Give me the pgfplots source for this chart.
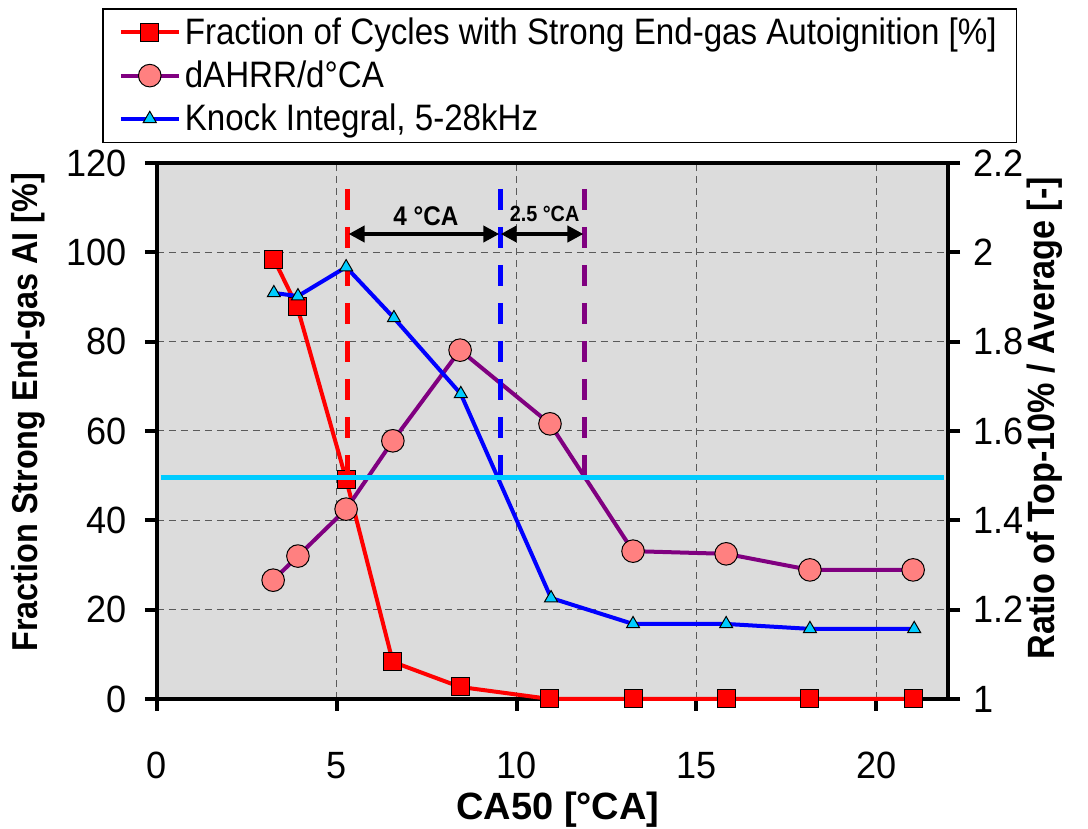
\documentclass[border=0pt]{standalone}
\usepackage{fontspec}
\setmainfont[FakeStretch=0.9]{Liberation Sans}
\newfontfamily\widefont{Liberation Sans}
\newfontfamily\tickfont[FakeStretch=0.95]{Liberation Sans}
\usepackage{pgfplots}
\pgfplotsset{compat=1.18}
\usetikzlibrary{arrows.meta}
\definecolor{bgc}{RGB}{220,220,220}
\definecolor{cpurple}{RGB}{128,0,128}
\definecolor{csalmon}{RGB}{255,128,128}
\definecolor{ccyan}{RGB}{0,204,255}
\definecolor{gridc}{RGB}{90,90,90}
\begin{document}
\begin{tikzpicture}
\useasboundingbox (-78.5pt,-65pt) rectangle (465.5pt,349.5pt);
\pgfplotsset{
  every axis/.append style={
    scale only axis, width=395.5pt, height=268pt, xmin=0, xmax=22,
    font=\fontsize{18}{21}\selectfont,
    tick label style={font=\tickfont\fontsize{19}{21}\selectfont},
    /pgf/number format/assume math mode=true,
    tick align=outside, major tick length=6pt,
    tick style={black, line width=2pt},
    axis line style={line width=2pt},
  }
}
\begin{axis}[
  ymin=0, ymax=120, ytick={0,20,40,60,80,100,120}, xtick={0,5,10,15,20},
  xtick pos=bottom, ytick pos=left,
  axis background/.style={fill=bgc},
  grid=major, grid style={gridc, line width=0.5pt, dash pattern=on 3.5pt off 2.5pt},
  clip=false,
  xticklabel style={yshift=-17pt},
  yticklabel style={xshift=-5.5pt},
  xlabel={\widefont\bfseries\fontsize{19}{20}\selectfont CA50 [°CA]},
  xlabel style={at={(axis description cs:0.507,-0.206)}, anchor=center},
  ylabel={\bfseries Fraction Strong End-gas AI [\%]},
  ylabel style={at={(axis description cs:-0.163,0.535)}, anchor=center},
]
\addplot[red, line width=2pt, mark=square*, mark size=4.5pt, mark options={fill=red, draw=black, line width=0.5pt}] coordinates {
(3.25,98.5) (3.9,87.8) (5.26,49.2) (6.56,8.3) (8.43,2.7) (10.93,0) (13.24,0) (15.83,0) (18.16,0) (21.03,0)};
\end{axis}
\begin{axis}[
  ymin=1, ymax=2.2, ytick={1,1.2,1.4,1.6,1.8,2,2.2},
  axis y line*=right, axis x line=none,
  clip=false,
  yticklabel style={xshift=3pt},
  ylabel={\bfseries\fontsize{19}{20}\selectfont Ratio of Top-10\% / Average [-]},
  ylabel style={at={(axis description cs:1.122,0.524)}, anchor=center},
  legend style={at={(axis description cs:-0.0695,1.289)}, anchor=north west, draw=black, line width=0.75pt, fill=white,
    font=\fontsize{18.4}{20}\selectfont, row sep=2.75pt, inner xsep=8pt, inner ysep=2.4pt},
  legend cell align=left,
  legend image code/.code={\draw[mark repeat=2,mark phase=2,#1] plot coordinates {(0pt,0pt) (14.5pt,0pt) (29pt,0pt)};},
]
\addlegendimage{red, line width=2pt, mark=square*, mark size=4.5pt, mark options={fill=red, draw=black, line width=0.5pt}}
\addlegendentry{Fraction of Cycles with Strong End-gas Autoignition [\%]}
\addplot[cpurple, line width=2pt, mark=*, mark size=5.65pt, mark options={fill=csalmon, draw=black, line width=0.5pt}] coordinates {
(3.23,1.266) (3.92,1.32) (5.26,1.425) (6.56,1.578) (8.43,1.781) (10.93,1.616) (13.24,1.331) (15.83,1.325) (18.16,1.289) (21.03,1.289)};
\addlegendentry{dAHRR/d°CA}
\addplot[blue, line width=2pt, mark=triangle*, mark size=3.75pt, mark options={fill=ccyan, draw=black, line width=0.5pt}] coordinates {
(3.25,1.909) (3.92,1.902) (5.26,1.967) (6.59,1.853) (8.45,1.683) (10.96,1.226) (13.24,1.168) (15.83,1.168) (18.16,1.157) (21.06,1.157)};
\addlegendentry{Knock Integral, 5-28kHz}
\addplot[red, line width=2.5pt, dash pattern=on 10.5pt off 8.5pt, forget plot] coordinates {(5.31,2.142) (5.31,1.495)};
\addplot[blue, line width=2.5pt, dash pattern=on 10.5pt off 8.5pt, forget plot] coordinates {(9.54,2.142) (9.54,1.495)};
\addplot[cpurple, line width=2.5pt, dash pattern=on 10.5pt off 8.5pt, forget plot] coordinates {(11.88,2.142) (11.88,1.495)};
\addplot[ccyan, line width=2.4pt, forget plot] coordinates {(0.1,1.495) (21.9,1.495)};
\draw[line width=2pt, {Triangle[length=8pt,width=8pt]}-{Triangle[length=8pt,width=8pt]}] (axis cs:5.33,2.041) -- (axis cs:9.52,2.041);
\draw[line width=2pt, {Triangle[length=8pt,width=8pt]}-{Triangle[length=8pt,width=8pt]}] (axis cs:9.56,2.041) -- (axis cs:11.86,2.041);
\node[font=\bfseries\fontsize{13.5}{14}\selectfont] at (axis cs:7.48,2.081) {4 °CA};
\node[font=\bfseries\fontsize{11}{12}\selectfont] at (axis cs:10.78,2.086) {2.5 °CA};
\end{axis}
\end{tikzpicture}
\end{document}
